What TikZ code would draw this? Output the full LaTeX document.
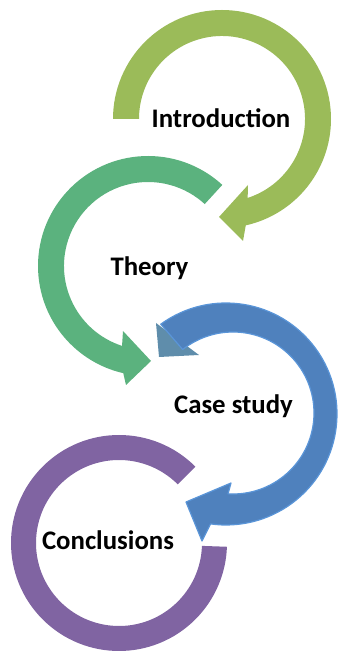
\documentclass[tikz,border=0pt]{standalone}
\usepackage{fontspec}
\setmainfont{Carlito}
\usetikzlibrary{calc}
\definecolor{introgreen}{HTML}{9BBB59}
\definecolor{theorygreen}{HTML}{5BB27E}
\definecolor{caseblue}{HTML}{4F81BD}
\definecolor{caseedge}{HTML}{5A95D8}
\definecolor{casetail}{HTML}{5F8DAB}
\definecolor{conclpurple}{HTML}{8064A2}
\begin{document}
\begin{tikzpicture}[x=1pt,y=1pt,
  steplabel/.style={font=\bfseries\fontsize{26.8}{30}\selectfont, anchor=base, inner sep=0pt, text=black}]
\useasboundingbox (0,0) rectangle (341,653);

% centres of the four rings
\coordinate (I)  at (222,534);
\coordinate (T)  at (148,387);
\coordinate (Co) at (226,239);
\coordinate (Ci) at (233,240);
\coordinate (P)  at (119,110);

% Introduction: clockwise arrow
\fill[introgreen] ($(I)+(180:109)$) arc[start angle=180, end angle=-77.4, radius=109]
  -- (243,412) -- (219,436) -- (248,468)
  -- ($(I)+(-72:83)$) arc[start angle=-72, end angle=180, radius=83] -- cycle;

% Theory: counter-clockwise arrow
\fill[theorygreen] ($(T)+(47.5:84)$) -- ($(T)+(47.5:110)$)
  arc[start angle=47.5, end angle=257, radius=110]
  -- (126,268) -- (151,292) -- (123,322)
  -- ($(T)+(252:84)$) arc[start angle=252, end angle=47.5, radius=84] -- cycle;

% Case study: tail piece, then clockwise arrow
\fill[casetail] (156,330) -- (159,296) -- (199,298) -- cycle;
\filldraw[fill=caseblue, draw=caseedge, line width=1.2pt, line join=round]
  ($(Co)+(126:111)$) arc[start angle=126, end angle=-98, radius=111]
  -- (202,112) -- (186,151) -- (231,170)
  -- ($(Ci)+(-93.5:81)$) arc[start angle=-93.5, end angle=128.4, radius=81] -- cycle;

% Conclusions: open ring
\fill[conclpurple] ($(P)+(45:108)$) arc[start angle=45, end angle=358, radius=108]
  -- ($(P)+(358:83)$) arc[start angle=358, end angle=45, radius=83] -- cycle;

% labels
\node[steplabel] (intro)  at (221,525)   {Introduction};
\node[steplabel] (theory) at (149.5,377) {Theory};
\node[steplabel] (case)   at (233.5,239) {Case study};
\node[steplabel] (concl)  at (108,103)   {Conclusions};
\end{tikzpicture}
\end{document}
